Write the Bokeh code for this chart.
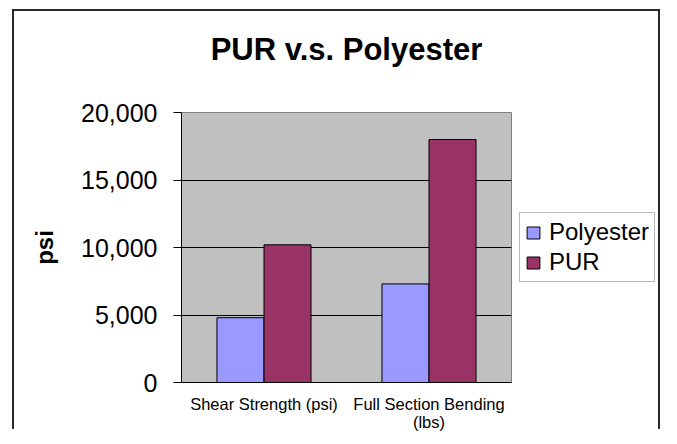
from bokeh.plotting import figure
from bokeh.models import (ColumnDataSource, FactorRange, NumeralTickFormatter, Legend,
                          LegendItem, Range1d, FixedTicker, CategoricalAxis)
from bokeh.transform import dodge
from bokeh.embed import file_html
from bokeh.resources import INLINE

# ---- data ----
categories = ["Shear Strength (psi)", "Full Section Bending\n(lbs)"]
polyester = [4800, 7300]
pur = [10200, 18000]
series_names = ["Polyester", "PUR"]
y_ticks = [0, 5000, 10000, 15000, 20000]
chart_title = "PUR v.s. Polyester"
y_label = "psi"

FONT = "Liberation Sans"
colors = ["#9999FF", "#993366"]
EDGE = "#2a2a2a"

source = ColumnDataSource(dict(cat=categories, polyester=polyester, pur=pur))

p = figure(frame_width=330, frame_height=270,
           x_range=FactorRange(*categories), y_range=Range1d(0, 20000),
           output_backend="svg", toolbar_location=None,
           min_border_left=181, min_border_right=150,
           min_border_top=112, min_border_bottom=46)

p.background_fill_color = "#C0C0C0"
p.border_fill_alpha = 0
p.outline_line_color = "#808080"
p.outline_line_width = 1

# outer chart-area border (drawn as CSS background lines behind the canvas)
p.styles = {
    "background-color": "white",
    "background-image": (f"linear-gradient({EDGE},{EDGE}), "
                         f"linear-gradient({EDGE},{EDGE}), "
                         f"linear-gradient({EDGE},{EDGE})"),
    "background-size": "2px 420px, 648px 2px, 2px 420px",
    "background-position": "12px 9px, 12px 9px, 658px 9px",
    "background-repeat": "no-repeat",
}

bw = 0.285
r1 = p.vbar(x=dodge("cat", -bw / 2, range=p.x_range), top="polyester", width=bw,
            source=source, fill_color=colors[0], line_color="black", line_width=1)
r2 = p.vbar(x=dodge("cat", bw / 2, range=p.x_range), top="pur", width=bw,
            source=source, fill_color=colors[1], line_color="black", line_width=1)

# bottom (category) axis -- style it before the extra top axis exists
xa = p.below[0]
xa.axis_line_color = "black"
xa.major_tick_line_color = None
xa.major_tick_out = 0
xa.major_tick_in = 0
xa.minor_tick_line_color = None
xa.major_label_text_font = FONT
xa.major_label_text_font_size = "16.5px"
xa.major_label_text_color = "black"
xa.major_label_text_line_height = 1.0
xa.major_label_standoff = 12

# title: drawn as the label of a bare axis above the plot area
p.title.text = ""
p.title.visible = False
top_axis = CategoricalAxis(ticker=FixedTicker(ticks=[]))
top_axis.axis_line_color = None
top_axis.major_tick_line_color = None
top_axis.minor_tick_line_color = None
top_axis.major_tick_out = 0
top_axis.major_tick_in = 0
top_axis.major_label_text_font_size = "16.5px"
top_axis.major_label_text_alpha = 0
top_axis.major_label_standoff = 12
top_axis.axis_label = chart_title
top_axis.axis_label_text_font = FONT
top_axis.axis_label_text_font_size = "31px"
top_axis.axis_label_text_font_style = "bold"
top_axis.axis_label_text_color = "black"
top_axis.axis_label_standoff = 46
p.add_layout(top_axis, "above")

# y axis
ya = p.left[0]
ya.ticker = FixedTicker(ticks=y_ticks)
ya.formatter = NumeralTickFormatter(format="0,0")
ya.axis_line_color = "black"
ya.major_tick_line_color = "black"
ya.major_tick_out = 8
ya.major_tick_in = 0
ya.minor_tick_line_color = None
ya.major_label_text_font = FONT
ya.major_label_text_font_size = "25px"
ya.major_label_text_color = "black"
ya.major_label_standoff = 16
ya.axis_label = y_label
ya.axis_label_text_font = FONT
ya.axis_label_text_font_size = "24px"
ya.axis_label_text_font_style = "bold"
ya.axis_label_text_color = "black"
ya.axis_label_standoff = 20

p.xgrid.grid_line_color = None
p.ygrid.ticker = FixedTicker(ticks=y_ticks)
p.ygrid.grid_line_color = "black"
p.ygrid.grid_line_width = 1

legend = Legend(items=[LegendItem(label=series_names[0], renderers=[r1]),
                       LegendItem(label=series_names[1], renderers=[r2])],
                location="center_left",
                label_text_font=FONT, label_text_font_size="24px",
                label_text_color="black",
                border_line_color="#707070", border_line_width=1,
                background_fill_color="white", background_fill_alpha=1,
                padding=5, spacing=2, glyph_width=16, glyph_height=15,
                label_standoff=8, label_height=25, label_width=100, margin=8)
p.add_layout(legend, "right")

open("out.html", "w").write(file_html(p, INLINE))
